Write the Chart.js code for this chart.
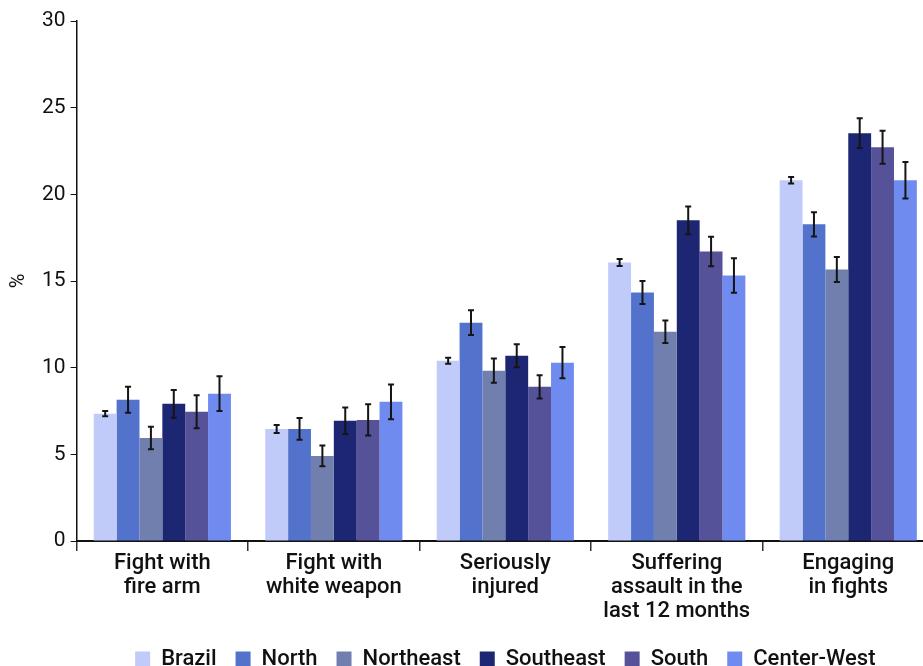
<!DOCTYPE html>
<html>
<head>
<meta charset="utf-8">
<script src="https://cdn.jsdelivr.net/npm/chart.js@4/dist/chart.umd.min.js"></script>
<style>
  html, body { margin: 0; padding: 0; background: #fff; overflow: hidden; }
  #wrap { width: 923px; height: 666px; overflow: hidden; }
</style>
</head>
<body>
<div id="wrap"><canvas id="chart" width="934" height="666"></canvas></div>
<script>
const CATEGORIES = [
  ['Fight with', 'fire arm'],
  ['Fight with', 'white weapon'],
  ['Seriously', 'injured'],
  ['Suffering', 'assault in the', 'last 12 months'],
  ['Engaging', 'in fights'],
];

const REGIONS = ['Brazil', 'North', 'Northeast', 'Southeast', 'South', 'Center-West'];
const REGION_COLORS = ['#c0cbfa', '#5272cb', '#717faf', '#1c2673', '#55529a', '#708bef'];

// values in %
const brazil = [7.35, 6.47, 10.4, 16.07, 20.81];
const north = [8.15, 6.47, 12.6, 14.34, 18.27];
const northeast = [5.95, 4.91, 9.83, 12.08, 15.66];
const southeast = [7.92, 6.94, 10.69, 18.5, 23.53];
const south = [7.46, 6.99, 8.9, 16.7, 22.72];
const centerWest = [8.5, 8.03, 10.29, 15.32, 20.81];

// error bar half widths
const brazilErr = [0.15, 0.23, 0.17, 0.2, 0.19];
const northErr = [0.75, 0.63, 0.72, 0.66, 0.7];
const northeastErr = [0.65, 0.6, 0.7, 0.65, 0.72];
const southeastErr = [0.8, 0.76, 0.67, 0.8, 0.86];
const southErr = [0.95, 0.9, 0.67, 0.85, 0.95];
const centerWestErr = [1.0, 1.0, 0.9, 1.0, 1.05];

const SERIES = [brazil, north, northeast, southeast, south, centerWest];
const ERRORS = [brazilErr, northErr, northeastErr, southeastErr, southErr, centerWestErr];

const FONT = 'Roboto, "DejaVu Sans", sans-serif';

const errorBars = {
  id: 'errorBars',
  afterDatasetsDraw(chart) {
    const ctx = chart.ctx;
    const yScale = chart.scales.y;
    ctx.save();
    ctx.strokeStyle = '#151515';
    ctx.lineWidth = 2;
    chart.data.datasets.forEach((ds, i) => {
      const meta = chart.getDatasetMeta(i);
      meta.data.forEach((bar, j) => {
        const v = ds.data[j];
        const e = ds.errors[j];
        const top = yScale.getPixelForValue(v + e);
        const bottom = yScale.getPixelForValue(v - e);
        ctx.beginPath();
        ctx.moveTo(bar.x, top);
        ctx.lineTo(bar.x, bottom);
        ctx.moveTo(bar.x - 3, top);
        ctx.lineTo(bar.x + 3, top);
        ctx.moveTo(bar.x - 3, bottom);
        ctx.lineTo(bar.x + 3, bottom);
        ctx.stroke();
      });
    });
    ctx.restore();
  }
};

new Chart(document.getElementById('chart'), {
  type: 'bar',
  plugins: [errorBars],
  data: {
    labels: CATEGORIES,
    datasets: REGIONS.map((name, i) => ({
      label: name,
      data: SERIES[i],
      errors: ERRORS[i],
      backgroundColor: REGION_COLORS[i],
      borderWidth: 0,
      categoryPercentage: 0.8,
      barPercentage: 1.0,
    })),
  },
  options: {
    responsive: false,
    animation: false,
    layout: { padding: { top: 21, right: 0, left: 7, bottom: -14 } },
    plugins: {
      tooltip: { enabled: false },
      legend: {
        position: 'bottom',
        fullSize: false,
        labels: {
          boxWidth: 15,
          boxHeight: 15,
          padding: 19,
          color: '#111',
          font: { family: FONT, size: 22, weight: 500 },
        },
      },
    },
    scales: {
      x: {
        offset: true,
        afterFit: (scale) => { scale.height += 6; },
        border: { color: '#111', width: 2 },
        grid: {
          offset: true,
          drawOnChartArea: false,
          drawTicks: true,
          tickLength: 10,
          color: '#333',
          lineWidth: 1.5,
        },
        ticks: {
          color: '#111',
          padding: 0,
          font: { family: FONT, size: 22, weight: 500, lineHeight: 1.09 },
          maxRotation: 0,
          autoSkip: false,
        },
      },
      y: {
        min: 0,
        max: 30,
        border: { color: '#111', width: 1.5 },
        grid: {
          drawOnChartArea: false,
          drawTicks: true,
          tickLength: 6,
          color: '#111',
        },
        ticks: {
          stepSize: 5,
          color: '#111',
          padding: 5,
          font: { family: FONT, size: 21 },
        },
        title: {
          display: true,
          text: '%',
          color: '#111',
          padding: { top: 0, bottom: 6 },
          font: { family: FONT, size: 20 },
        },
      },
    },
  },
});
</script>
</body>
</html>
